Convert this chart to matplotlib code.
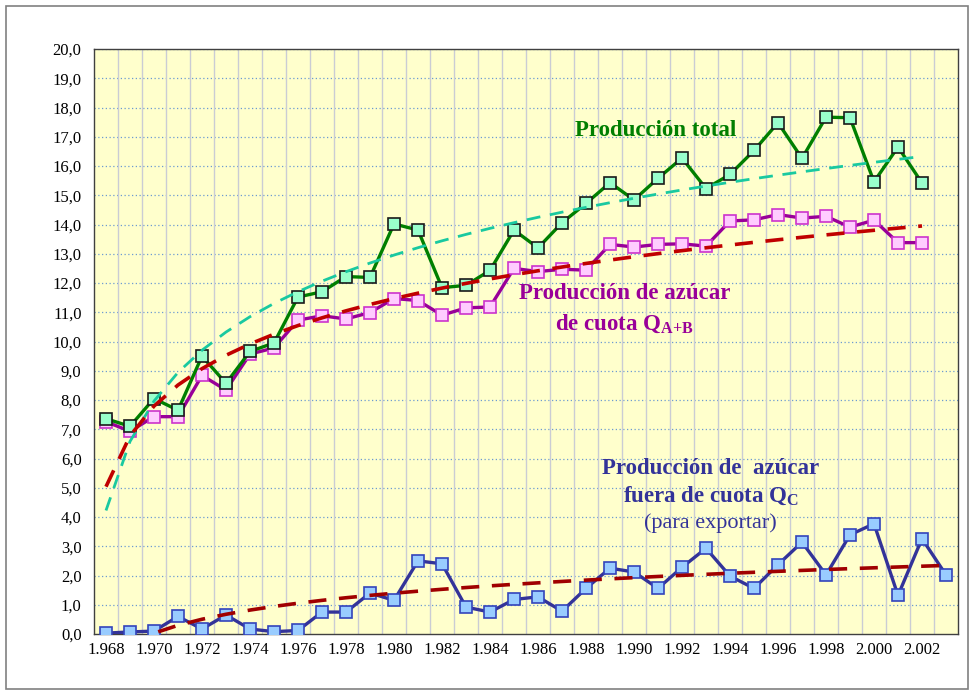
import numpy as np
import matplotlib
matplotlib.use('Agg')
import matplotlib.pyplot as plt
from matplotlib.patches import Rectangle

plt.rcParams['font.family'] = ['Liberation Serif', 'DejaVu Serif']
plt.rcParams['mathtext.fontset'] = 'custom'
plt.rcParams['mathtext.rm'] = 'Liberation Serif'
plt.rcParams['mathtext.bf'] = 'Liberation Serif:bold'

# Datos (millones de t)
years = list(range(1968, 2004))
total = [7.36, 7.10, 8.05, 7.65, 9.50, 8.57, 9.66, 9.95, 11.52, 11.70,
         12.22, 12.19, 14.02, 13.81, 11.84, 11.92, 12.43, 13.81, 13.20, 14.06,
         14.72, 15.43, 14.84, 15.58, 16.27, 15.23, 15.71, 16.53, 17.48, 16.26,
         17.67, 17.65, 15.46, 16.65, 15.42]
cuota_ab = [7.26, 6.93, 7.43, 7.43, 8.84, 8.34, 9.57, 9.78, 10.73, 10.88,
            10.77, 10.99, 11.47, 11.40, 10.90, 11.15, 11.18, 12.50, 12.39, 12.47,
            12.44, 13.32, 13.23, 13.32, 13.34, 13.26, 14.12, 14.16, 14.34, 14.22,
            14.28, 13.91, 14.15, 13.38, 13.38]
cuota_c = [0.03, 0.07, 0.10, 0.60, 0.17, 0.65, 0.17, 0.08, 0.12, 0.75,
           0.75, 1.40, 1.15, 2.50, 2.40, 0.92, 0.75, 1.18, 1.27, 0.78,
           1.56, 2.25, 2.12, 1.56, 2.28, 2.93, 1.98, 1.56, 2.37, 3.14,
           2.02, 3.39, 3.77, 1.32, 3.26, 2.02]
tick_years = list(range(1968, 2003, 2))
tick_labels = ['%d.%03d' % (y // 1000, y % 1000) for y in tick_years]
ytick_vals = list(range(0, 21))


def log_trend(vals):
    # tendencia logaritmica como la de Excel (x = 1, 2, 3, ...)
    x = np.arange(1, len(vals) + 1)
    b, a = np.polyfit(np.log(x), vals, 1)
    return a + b * np.log(x)


fig = plt.figure(figsize=(9.74, 6.93), dpi=100)
ax = fig.add_axes([94 / 974, 1 - 634 / 693, 864 / 974, 585 / 693])
ax.set_facecolor('#FFFFCC')

# borde exterior del grafico
fig.patches.append(Rectangle((6 / 974, 4 / 693), 962 / 974, 683 / 693,
                             transform=fig.transFigure, fill=False,
                             edgecolor='#808080', linewidth=1.2))

# rejilla
for y in ytick_vals[1:]:
    ax.axhline(y, color='#6C9BD2', linestyle=(0, (1, 2)), linewidth=0.9, zorder=1)
for x in np.arange(1968.5, 2003, 1):
    ax.axvline(x, color='#CACCD4', linewidth=1.0, zorder=1)

yrs_t = years[:len(total)]
ax.plot(yrs_t, cuota_ab, color='#990099', linewidth=2.4, marker='s', markersize=9,
        markerfacecolor='#FFCCFF', markeredgecolor='#CC33CC', markeredgewidth=1.2, zorder=3)
ax.plot(yrs_t, total, color='#007F00', linewidth=2.4, marker='s', markersize=9,
        markerfacecolor='#99FFCC', markeredgecolor='#1A1A1A', markeredgewidth=1.2, zorder=4)
ax.plot(years, cuota_c, color='#333399', linewidth=2.4, marker='s', markersize=9,
        markerfacecolor='#99CCFF', markeredgecolor='#3344BB', markeredgewidth=1.2, zorder=3)

# lineas de tendencia
ax.plot(yrs_t, log_trend(total), color='#19C9A0', linewidth=2.0,
        dashes=(5, 3.5), zorder=5)
ax.plot(yrs_t, log_trend(cuota_ab), color='#C00000', linewidth=2.6,
        dashes=(5, 3.5), zorder=5)
ax.plot(years, log_trend(cuota_c), color='#A00000', linewidth=2.6,
        dashes=(5, 3.5), zorder=5)

ax.set_xlim(1967.5, 2003.5)
ax.set_ylim(0, 20)
ax.set_yticks(ytick_vals)
ax.set_yticklabels(['%d,0' % v for v in ytick_vals], fontsize=12)
ax.set_xticks(tick_years)
ax.set_xticklabels(tick_labels, fontsize=12)
ax.tick_params(axis='both', length=0, pad=6)
ax.tick_params(axis='y', pad=9)
for s in ax.spines.values():
    s.set_color('#404040')
    s.set_linewidth(1.0)

# rotulos
ax.text(1990.9, 17.2, 'Producción total', color='#007F00', fontsize=16.5,
        fontweight='bold', ha='center', va='center')
ax.text(1989.6, 11.65, 'Producción de azúcar', color='#990099', fontsize=16.5,
        fontweight='bold', ha='center', va='center')
ax.text(1989.6, 10.6, r'de cuota Q$_{\mathbf{A{+}B}}$', color='#990099', fontsize=16.5,
        fontweight='bold', ha='center', va='center')
ax.text(1993.2, 5.65, 'Producción de  azúcar', color='#333399', fontsize=16.5,
        fontweight='bold', ha='center', va='center')
ax.text(1993.2, 4.7, r'fuera de cuota Q$_{\mathbf{C}}$', color='#333399', fontsize=16.5,
        fontweight='bold', ha='center', va='center')
ax.text(1993.2, 3.8, '(para exportar)', color='#333399', fontsize=16,
        ha='center', va='center')

fig.savefig('out.png', dpi=100)
